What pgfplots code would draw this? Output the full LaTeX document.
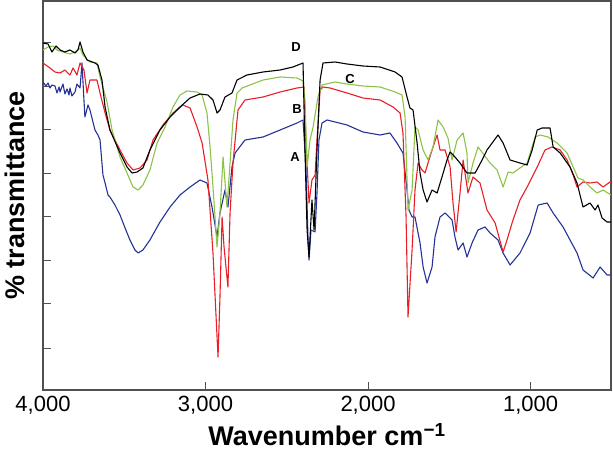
\documentclass[border=0pt]{standalone}
\usepackage{fontspec}
\setmainfont{Liberation Sans}
\usepackage{pgfplots}
\pgfplotsset{compat=1.18}
\definecolor{axgray}{RGB}{80,80,80}
\definecolor{specblue}{RGB}{35,50,150}
\definecolor{specred}{RGB}{232,30,40}
\definecolor{specgreen}{RGB}{140,195,70}

\begin{document}
\begin{tikzpicture}
\begin{axis}[
  name=ax,
  width=568pt, height=389pt, scale only axis,
  x dir=reverse, xmin=505, xmax=4000,
  ymin=1, ymax=390,
  xtick={4000,3000,2000,1000},
  xticklabels={{4,000},{3,000},{2,000},{1,000}},
  ytick={43,87,130,174,217,261,304,348},
  yticklabels={},
  tick pos=left, tick align=inside,
  major tick length=8pt,
  axis line style={axgray, line width=1.6pt},
  every tick/.style={axgray, line width=1pt},
  ticklabel style={font=\fontsize{22}{24}\selectfont},
  xticklabel style={yshift=-3pt},
  xlabel={\bfseries Wavenumber cm\textsuperscript{−1}},
  ylabel={\bfseries \% transmittance},
  label style={font=\fontsize{27}{30}\selectfont},
  xlabel style={at={(axis description cs:0.5,-0.114)}, anchor=center, inner sep=0pt},
  ylabel style={at={(axis description cs:-0.049,0.5)}, anchor=center},
  every axis plot/.append style={line width=1.1pt, line join=round},
]
% A
\addplot[specblue] coordinates {
(4000,309)(3982,305)(3969,308)(3957,303)(3945,306)(3926,305)(3914,298)(3901,304)(3895,299)(3877,307)
(3865,297)(3852,302)(3840,296)(3834,303)(3822,295)(3803,299)(3791,307)(3772,303)
(3760,328)(3748,291)(3742,274)(3723,286)(3711,281)(3680,261)(3662,256)(3649,251)(3631,216)(3618,208)
(3600,196)(3588,194)(3557,186)(3526,176)(3495,163)(3465,151)(3434,141)(3415,138)(3385,141)(3342,151)
(3280,169)(3218,184)(3157,196)(3095,204)(3034,211)(2991,208)(2960,184)(2929,154)(2911,178)(2880,201)
(2862,184)(2837,224)(2818,238)(2757,251)(2646,254)(2541,261)(2437,268)(2400,271)(2382,224)(2369,151)
(2363,131)(2351,161)(2326,159)(2314,198)(2302,251)(2283,268)(2252,271)(2203,269)(2129,266)(2031,259)
(1926,256)(1865,258)(1822,248)(1785,238)(1760,201)(1748,181)(1729,174)(1711,174)(1680,148)(1661,124)
(1637,108)(1606,124)(1588,154)(1557,174)(1526,178)(1483,171)(1465,154)(1446,141)(1415,148)(1391,134)
(1360,148)(1323,161)(1280,164)(1249,158)(1200,151)(1169,138)(1126,126)(1065,138)(1003,158)(953,186)
(898,188)(861,178)(800,164)(757,151)(714,138)(677,121)(615,113)(572,124)(529,116)(505,116)
};
% B
\addplot[specred] coordinates {
(4000,328)(3957,323)(3926,319)(3895,318)(3865,321)(3834,316)(3815,323)(3791,316)(3772,328)(3748,321)
(3729,298)(3711,311)(3668,311)(3649,298)(3618,278)(3588,261)(3526,241)(3483,228)(3446,221)(3403,223)
(3360,231)(3323,251)(3262,266)(3200,278)(3139,286)(3095,283)(3052,264)(3021,248)(2985,211)(2954,138)
(2923,34)(2911,94)(2898,174)(2886,144)(2862,104)(2849,178)(2831,228)(2800,281)(2757,291)(2646,294)
(2541,299)(2437,303)(2394,304)(2382,251)(2363,188)(2345,211)(2326,216)(2314,251)(2295,301)(2277,304)
(2234,303)(2129,298)(2031,293)(1926,291)(1846,284)(1803,278)(1785,258)(1766,174)(1754,74)(1729,141)
(1711,201)(1692,228)(1668,221)(1649,218)(1631,228)(1600,244)(1575,256)(1557,241)(1526,241)(1495,224)
(1477,188)(1458,159)(1434,198)(1415,231)(1385,198)(1354,214)(1311,208)(1268,181)(1218,168)(1169,139)
(1145,151)(1108,171)(1065,191)(1021,204)(959,224)(911,241)(868,244)(818,241)(775,231)(738,216)
(714,204)(677,209)(634,208)(591,209)(554,204)(511,209)(505,208)
};
% C
\addplot[specgreen] coordinates {
(4000,341)(3969,344)(3938,345)(3914,341)(3877,339)(3834,337)(3803,339)(3772,343)(3754,336)(3711,329)
(3668,328)(3649,314)(3606,289)(3575,261)(3526,234)(3483,218)(3446,204)(3415,201)(3385,206)(3342,221)
(3298,248)(3249,264)(3200,284)(3157,296)(3114,300)(3052,299)(3021,296)(2991,278)(2972,244)(2954,204)
(2929,144)(2911,178)(2892,234)(2868,184)(2849,228)(2831,271)(2806,298)(2775,303)(2646,311)(2541,314)
(2437,313)(2400,310)(2388,291)(2375,224)(2357,251)(2338,264)(2308,294)(2283,306)(2203,309)(2129,307)
(2031,305)(1926,304)(1834,299)(1791,296)(1772,274)(1754,181)(1729,201)(1711,264)(1692,261)(1661,241)
(1631,231)(1600,244)(1569,271)(1538,264)(1508,253)(1483,231)(1452,251)(1415,258)(1391,238)(1385,208)
(1354,228)(1323,244)(1249,228)(1206,221)(1169,204)(1138,219)(1108,218)(1065,223)(1021,228)(972,254)
(941,256)(892,254)(837,248)(775,238)(738,224)(708,213)(677,211)(634,204)(591,198)(554,201)(505,196)
};
% D
\addplot[black] coordinates {
(4000,348)(3969,347)(3945,339)(3920,345)(3895,341)(3865,339)(3834,341)(3803,338)(3785,341)(3772,349)
(3754,339)(3729,331)(3680,328)(3662,326)(3637,311)(3618,284)(3588,261)(3526,238)(3483,224)(3452,218)
(3421,219)(3385,223)(3342,241)(3280,261)(3218,274)(3157,284)(3095,293)(3034,297)(2985,296)(2954,291)
(2929,278)(2911,281)(2880,294)(2837,298)(2806,311)(2745,316)(2646,319)(2541,321)(2462,324)(2400,328)
(2388,241)(2375,161)(2363,134)(2345,191)(2332,161)(2314,241)(2295,311)(2277,328)(2203,329)(2129,327)
(2031,325)(1926,324)(1834,319)(1791,314)(1760,294)(1742,283)(1723,281)(1698,248)(1680,218)(1661,201)
(1637,189)(1606,201)(1575,198)(1545,214)(1514,231)(1495,239)(1465,234)(1434,228)(1391,218)(1341,218)
(1298,231)(1268,241)(1200,256)(1169,248)(1126,231)(1065,228)(1021,226)(990,241)(959,261)(929,263)
(880,263)(861,244)(818,238)(757,224)(714,208)(677,184)(634,188)(603,181)(585,186)(560,173)
(529,169)(505,169)
};
\begin{scope}[font=\bfseries\fontsize{13}{15}\selectfont]
\node at (axis cs:2443,344) {D};
\node at (axis cs:2111,312) {C};
\node at (axis cs:2437,282) {B};
\node at (axis cs:2449,234) {A};
\end{scope}
\end{axis}
\pgfresetboundingbox
\path ([shift={(-43pt,-60pt)}]ax.south west) rectangle ([shift={(2pt,1pt)}]ax.north east);
\end{tikzpicture}
\end{document}
